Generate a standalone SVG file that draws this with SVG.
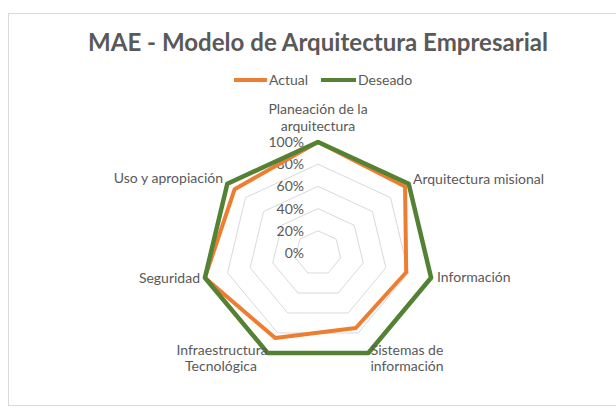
<svg xmlns="http://www.w3.org/2000/svg" width="616" height="410" viewBox="0 0 616 410">
<style>
  text { font-family: Lato, "Open Sans", "Liberation Sans", sans-serif; fill: #595959; }
  .lbl { font-size: 14px; }
  .tick { font-size: 14px; text-anchor: end; }
  .grid { fill: none; stroke: #d9d9d9; stroke-width: 1; }
  .actual { fill: none; stroke: #ED7D31; stroke-width: 4; stroke-linejoin: round; }
  .deseado { fill: none; stroke: #548235; stroke-width: 4.5; stroke-linejoin: round; }
</style>
<rect x="0" y="0" width="616" height="410" fill="#ffffff"/>
<rect x="8.5" y="13.5" width="620" height="392" fill="#ffffff" stroke="#d9d9d9" stroke-width="1"/>

<g id="title">
  <text x="318" y="51" text-anchor="middle" font-size="25" font-weight="bold" textLength="460" lengthAdjust="spacingAndGlyphs">MAE - Modelo de Arquitectura Empresarial</text>
</g>

<g id="legend">
  <line x1="234" y1="80" x2="267" y2="80" stroke="#ED7D31" stroke-width="4"/>
  <text class="lbl" x="269" y="85">Actual</text>
  <line x1="321" y1="80" x2="356" y2="80" stroke="#548235" stroke-width="4"/>
  <text class="lbl" x="358" y="85">Deseado</text>
</g>

<g id="grid">
  <polygon class="grid" points="318,230.8 336.14,239.16 340.62,257.94 328.07,273 307.93,273 295.38,257.94 299.86,239.16"/>
  <polygon class="grid" points="318,208.6 354.28,225.32 363.24,262.88 338.13,293 297.87,293 272.76,262.88 281.72,225.32"/>
  <polygon class="grid" points="318,186.4 372.41,211.47 385.85,267.82 348.2,313.01 287.8,313.01 250.15,267.82 263.59,211.47"/>
  <polygon class="grid" points="318,164.2 390.55,197.63 408.47,272.76 358.26,333.01 277.74,333.01 227.53,272.76 245.45,197.63"/>
  <polygon class="grid" points="318,142 408.69,183.79 431.09,277.7 368.33,353.01 267.67,353.01 204.91,277.7 227.31,183.79"/>
</g>

<g id="ticks">
  <text class="tick" x="304" y="147">100%</text>
  <text class="tick" x="304" y="169">80%</text>
  <text class="tick" x="304" y="191">60%</text>
  <text class="tick" x="304" y="214">40%</text>
  <text class="tick" x="304" y="236">20%</text>
  <text class="tick" x="304" y="258">0%</text>
</g>

<g id="connectors">
  <polygon id="serie-actual" class="actual" points="318,142 405.06,186.56 406.21,272.27 355.75,328.01 275.22,338.01 204.91,277.7 234.57,189.33"/>
  <polygon id="serie-deseado" class="deseado" points="318,142 408.69,183.79 431.09,277.7 368.33,353.01 267.67,353.01 204.91,277.7 227.31,183.79"/>
</g>

<g id="node-planeacion">
  <text class="lbl" x="318" y="114" text-anchor="middle">Planeación de la</text>
  <text class="lbl" x="318" y="131" text-anchor="middle">arquitectura</text>
</g>
<g id="node-arquitectura-misional">
  <text class="lbl" x="413" y="184">Arquitectura misional</text>
</g>
<g id="node-informacion">
  <text class="lbl" x="437" y="282">Información</text>
</g>
<g id="node-sistemas">
  <text class="lbl" x="407" y="355" text-anchor="middle">Sistemas de</text>
  <text class="lbl" x="407" y="371" text-anchor="middle">información</text>
</g>
<g id="node-infraestructura">
  <text class="lbl" x="222" y="355" text-anchor="middle">Infraestructura</text>
  <text class="lbl" x="221" y="371" text-anchor="middle">Tecnológica</text>
</g>
<g id="node-seguridad">
  <text class="lbl" x="200" y="283" text-anchor="end">Seguridad</text>
</g>
<g id="node-uso">
  <text class="lbl" x="223" y="183" text-anchor="end">Uso y apropiación</text>
</g>
</svg>
